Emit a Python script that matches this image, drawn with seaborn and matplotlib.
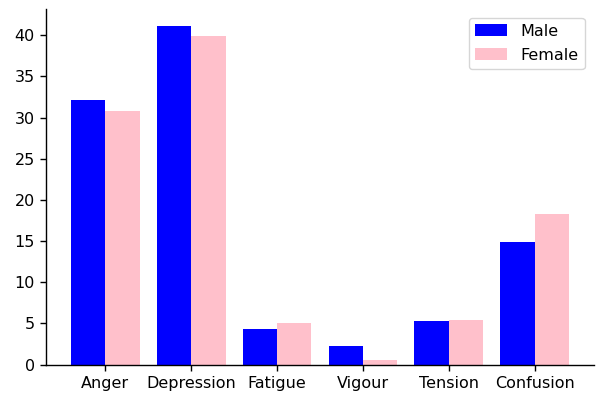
import matplotlib
matplotlib.use("Agg")
import matplotlib.pyplot as plt
import seaborn as sns
import pandas as pd

categories = ["Anger", "Depression", "Fatigue", "Vigour", "Tension", "Confusion"]
male = [32.1, 41.1, 4.3, 2.25, 5.3, 14.9]
female = [30.8, 39.9, 5.05, 0.55, 5.4, 18.25]
groups = ["Male", "Female"]
colors = ["blue", "pink"]

df = pd.DataFrame({
    "category": categories * 2,
    "value": male + female,
    "sex": ["Male"] * len(categories) + ["Female"] * len(categories),
})

sns.set_style("ticks")
plt.rcParams["font.family"] = ["DejaVu Sans"]
plt.rcParams["text.color"] = "black"
fig = plt.figure(figsize=(5.97, 3.93), dpi=100)
ax = fig.add_axes([0.077, 0.0725, 0.918, 0.905])
sns.barplot(data=df, x="category", y="value", hue="sex", hue_order=groups,
            palette=colors, saturation=1, width=0.8, ax=ax, errorbar=None,
            linewidth=0)
ax.set_xlabel("")
ax.set_ylabel("")
ax.set_xlim(-0.69, 5.69)
ax.set_ylim(0, 43.2)
ax.set_yticks([0, 5, 10, 15, 20, 25, 30, 35, 40])
ax.tick_params(colors="black", labelcolor="black", labelsize=11.5,
               direction="out", length=4.5, width=1)
for s in ["left", "bottom"]:
    ax.spines[s].set_color("black")
    ax.spines[s].set_linewidth(1)
sns.despine(ax=ax)
leg = ax.legend(loc="upper right", frameon=True, fontsize=11.5,
                bbox_to_anchor=(584.5 / 597, 1 - 17.5 / 393),
                bbox_transform=fig.transFigure, borderaxespad=0,
                handleheight=0.75, labelspacing=0.55)
leg.get_frame().set_edgecolor("#cccccc")
for t in leg.get_texts():
    t.set_color("black")
fig.savefig("out.png", dpi=100)
